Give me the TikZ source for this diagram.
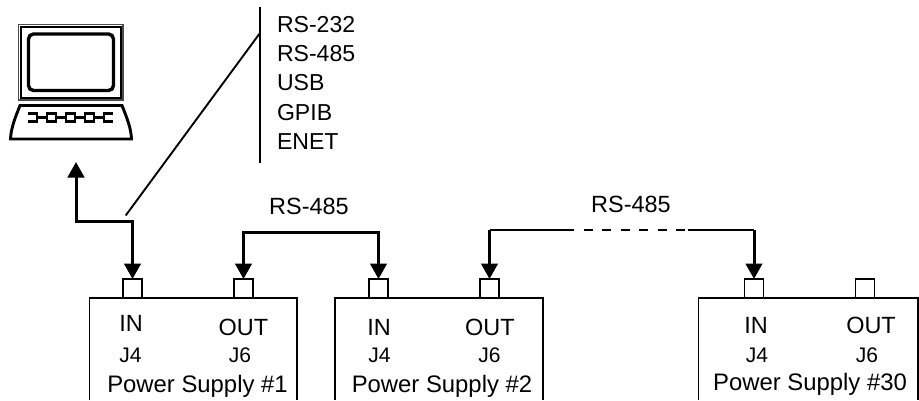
\documentclass[tikz,border=0pt]{standalone}
\usepackage{fontspec}
\setmainfont{Liberation Sans}
\usetikzlibrary{arrows.meta}
\tikzset{
  every node/.style={inner sep=0pt,outer sep=0pt},
  port/.style={draw,line width=1.7*0.75pt,minimum width=19*0.75pt,minimum height=19*0.75pt,anchor=south,fill=white},
  boxline/.style={line width=1.7*0.75pt},
  txt/.style={font=\fontsize{17.6pt}{20pt}\selectfont,anchor=base},
  nametxt/.style={font=\fontsize{17.9pt}{20pt}\selectfont,anchor=base},
  listtxt/.style={font=\fontsize{17.3pt}{20pt}\selectfont,anchor=base west},
  smalltxt/.style={font=\fontsize{15.8pt}{20pt}\selectfont,anchor=base},
  link/.style={line width=3*0.75pt,-{tip}},
  dbl link/.style={line width=3*0.75pt,{tip}-{tip}},
  thin link/.style={line width=1.7*0.75pt},
  tip/.tip={Triangle[length=15.5*0.75pt,width=16.5*0.75pt]}
}
\begin{document}
\begin{tikzpicture}[x=0.75pt,y=-0.75pt]
\useasboundingbox (0,0) rectangle (919,400);
% Power supply boxes (open to the picture bottom)
\draw[boxline] (89.5,400) |- (297,298) -- (297,400);
\draw[boxline] (335,400) |- (543,298) -- (543,400);
\draw[boxline] (698.5,400) |- (918,298) -- (918,400);
% Ports
\node[port] (p1in) at (132.5,298) {};
\node[port] (p1out) at (243.5,298) {};
\node[port] (p2in) at (378.5,298) {};
\node[port] (p2out) at (489.5,298) {};
\node[port] (p3in) at (754,298) {};
\node[port] (p3out) at (865,298) {};
% Box texts
\node[txt] (t1in) at (131,331) {IN};
\node[txt] (t1out) at (243.5,335) {OUT};
\node[smalltxt] (t1j4) at (130.5,362) {J4};
\node[smalltxt] (t1j6) at (240,362) {J6};
\node[nametxt] (t1n) at (197.5,392) {Power Supply \#1};
\node[txt] (t2in) at (379,335) {IN};
\node[txt] (t2out) at (490,335) {OUT};
\node[smalltxt] (t2j4) at (379.5,362) {J4};
\node[smalltxt] (t2j6) at (489.5,362) {J6};
\node[nametxt] (t2n) at (442,392) {Power Supply \#2};
\node[txt] (t3in) at (756,333) {IN};
\node[txt] (t3out) at (871,333) {OUT};
\node[smalltxt] (t3j4) at (757,362) {J4};
\node[smalltxt] (t3j6) at (867,362) {J6};
\node[nametxt] (t3n) at (810,390) {Power Supply \#30};
% Bus labels
\node[txt] (l1) at (309,214) {RS-485};
\node[txt] (l2) at (631,212) {RS-485};
% Interface list
\node[listtxt] (i1) at (277,32) {RS-232};
\node[listtxt] (i2) at (277,61) {RS-485};
\node[listtxt] (i3) at (277,90.5) {USB};
\node[listtxt] (i4) at (277,120) {GPIB};
\node[listtxt] (i5) at (277,149) {ENET};
\coordinate (bartop) at (260,7);
\coordinate (barbot) at (260,163);
\coordinate (barjoin) at (260,33);
\coordinate (tapfoot) at (125.7,215.5);
\draw[line width=2*0.75pt] (bartop) -- (barbot);
\draw[line width=1.9*0.75pt] (barjoin) -- (tapfoot);
% Connectors
\coordinate (pc) at (76,162);
\draw[dbl link] (pc) |- (132.5,221) -- (p1in.north);
\draw[dbl link] (p1out.north) |- (378.5,232) -- (p2in.north);
\coordinate (a2) at (489.5,230);
\coordinate (a3) at (754,230);
\coordinate (d1) at (565,230);
\coordinate (d2) at (688,230);
\draw[link] (a2) -- (p2out.north);
\draw[link] (a3) -- (p3in.north);
\draw[thin link] (a2) -- (d1);
\draw[thin link] (d2) -- (a3);
\draw[line width=2.4*0.75pt,dash pattern=on 9*0.75pt off 9.5*0.75pt] (d1) -- (d2);
% Laptop
\draw[line width=1.2*0.75pt,draw=black!70] (18.7,24.7) rectangle (123,100);
\draw[line width=2.4*0.75pt] (21,27) rectangle (120.7,97.7);
\draw[line width=3.4*0.75pt,rounded corners=5*0.75pt] (28.5,34) rectangle (113.5,90.5);
\draw[line width=2.9*0.75pt,line join=miter] (10.5,139) .. controls (11,128) and (15,118) .. (20,105.5) -- (122,105.5) .. controls (127,118) and (131,128) .. (131.5,139) -- cycle;
% Keyboard keys
\foreach \x in {47,66,85}{
  \draw[line width=2.6*0.75pt] (\x,113.5) rectangle +(9,8);
}
\draw[line width=2.6*0.75pt] (28,113.5) -| (37,121.5) -- (28,121.5);
\draw[line width=2.6*0.75pt] (113,113.5) -| (104,121.5) -- (113,121.5);
\foreach \a/\b in {37/47,56/66,75/85,94/104}{
  \draw[line width=2.4*0.75pt] (\a,117.5) -- (\b,117.5);
}
\end{tikzpicture}
\end{document}
